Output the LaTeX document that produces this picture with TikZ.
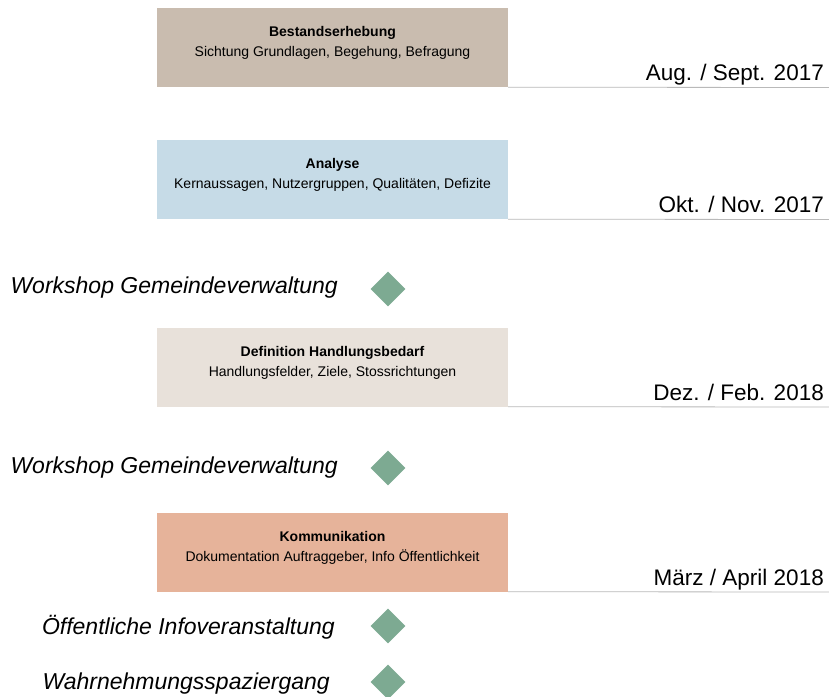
\documentclass[tikz,border=0pt]{standalone}
\usepackage{fontspec}
\setmainfont{Liberation Sans}
\usepackage{xcolor}
\usetikzlibrary{shapes.geometric}
\definecolor{bestandcol}{RGB}{201,188,175}
\definecolor{analysecol}{RGB}{198,219,231}
\definecolor{bedarfcol}{RGB}{232,225,218}
\definecolor{kommcol}{RGB}{230,179,154}
\definecolor{milestonecol}{RGB}{125,170,146}
\tikzset{
  phasebox/.style={rectangle,minimum width=351pt,minimum height=79pt,inner sep=0pt},
  phasetext/.style={anchor=north,align=center,inner sep=0pt,
    font=\fontsize{14}{20}\selectfont},
  datenode/.style={anchor=base east,inner sep=0pt,font=\fontsize{22.5}{26}\selectfont},
  dateline/.style={gray!55,line width=0.8pt},
  milestone/.style={diamond,fill=milestonecol,minimum width=35pt,
    minimum height=35pt,inner sep=0pt},
  eventnode/.style={anchor=base east,inner sep=0pt,
    font=\fontsize{23}{26}\selectfont\itshape}
}
\begin{document}
\begin{tikzpicture}[x=1pt,y=-1pt]
  \useasboundingbox (0,0) rectangle (829,696);

  % phases
  \node[phasebox,fill=bestandcol] (bestand) at (332.5,47.5) {};
  \node[phasetext] (bestandtext) at ([yshift=-18.5pt]bestand.north)
    {\textbf{Bestandserhebung}\\Sichtung Grundlagen, Begehung, Befragung};
  \coordinate (bestandend) at (829,87.5);
  \draw[dateline] (bestand.south east) -- (bestandend);
  \node[datenode] (bestanddate) at (824,80.5) {Aug. / Sept. 2017};

  \node[phasebox,fill=analysecol] (analyse) at (332.5,179.5) {};
  \node[phasetext] (analysetext) at ([yshift=-18.5pt]analyse.north)
    {\textbf{Analyse}\\Kernaussagen, Nutzergruppen, Qualitäten, Defizite};
  \coordinate (analyseend) at (829,219.5);
  \draw[dateline] (analyse.south east) -- (analyseend);
  \node[datenode] (analysedate) at (824,212.5) {Okt. / Nov. 2017};

  \node[phasebox,fill=bedarfcol] (bedarf) at (332.5,367) {};
  \node[phasetext] (bedarftext) at ([yshift=-18.5pt]bedarf.north)
    {\textbf{Definition Handlungsbedarf}\\Handlungsfelder, Ziele, Stossrichtungen};
  \coordinate (bedarfend) at (829,407);
  \draw[dateline] (bedarf.south east) -- (bedarfend);
  \node[datenode] (bedarfdate) at (824,400) {Dez. / Feb. 2018};

  \node[phasebox,fill=kommcol] (komm) at (332.5,552) {};
  \node[phasetext] (kommtext) at ([yshift=-18.5pt]komm.north)
    {\textbf{Kommunikation}\\Dokumentation Auftraggeber, Info Öffentlichkeit};
  \coordinate (kommend) at (829,592);
  \draw[dateline] (komm.south east) -- (kommend);
  \node[datenode] (kommdate) at (824,585) {März / April 2018};

  % milestones
  \node[milestone] (ws1) at (388,289) {};
  \node[eventnode] (ws1text) at (338,293) {Workshop Gemeindeverwaltung};
  \node[milestone] (ws2) at (388,468) {};
  \node[eventnode] (ws2text) at (338,473) {Workshop Gemeindeverwaltung};
  \node[milestone] (info) at (388,626) {};
  \node[eventnode] (infotext) at (335,634) {Öffentliche Infoveranstaltung};
  \node[milestone] (walk) at (388,682) {};
  \node[eventnode] (walktext) at (330,689) {Wahrnehmungsspaziergang};
\end{tikzpicture}
\end{document}
